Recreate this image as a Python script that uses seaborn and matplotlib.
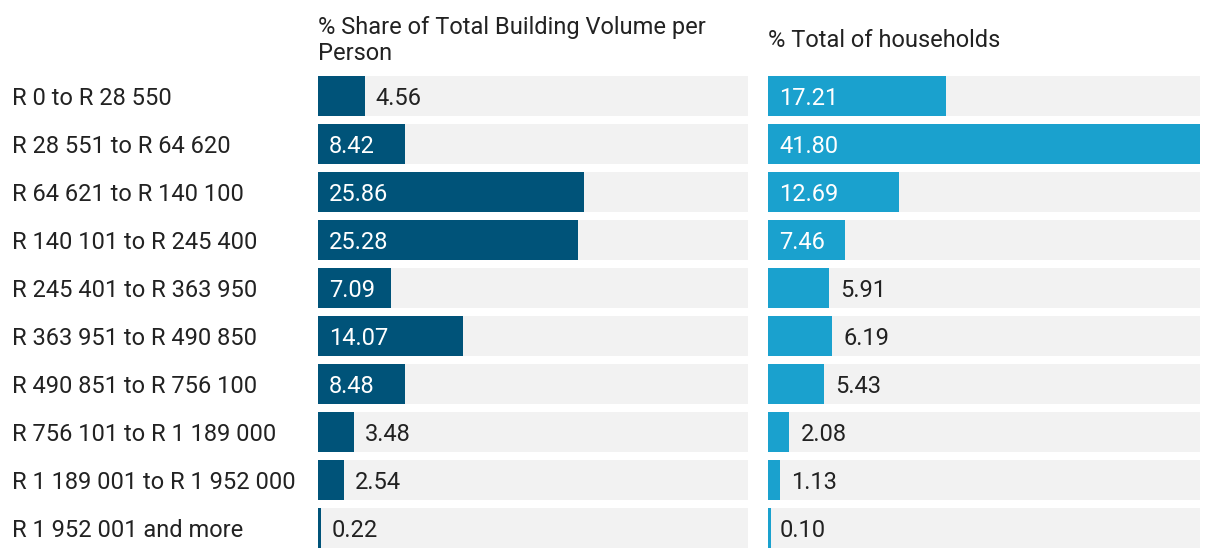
import matplotlib
matplotlib.use("Agg")
import matplotlib.pyplot as plt
import pandas as pd
import seaborn as sns

categories = [
    "R 0 to R 28 550",
    "R 28 551 to R 64 620",
    "R 64 621 to R 140 100",
    "R 140 101 to R 245 400",
    "R 245 401 to R 363 950",
    "R 363 951 to R 490 850",
    "R 490 851 to R 756 100",
    "R 756 101 to R 1 189 000",
    "R 1 189 001 to R 1 952 000",
    "R 1 952 001 and more",
]
building_share = [4.56, 8.42, 25.86, 25.28, 7.09, 14.07, 8.48, 3.48, 2.54, 0.22]
households = [17.21, 41.80, 12.69, 7.46, 5.91, 6.19, 5.43, 2.08, 1.13, 0.10]

titles = ["% Share of Total Building Volume per\nPerson", "% Total of households"]
colors = ["#005379", "#1aa1ce"]

sns.set_style("white")
plt.rcParams["font.family"] = ["Roboto", "DejaVu Sans"]

df = pd.DataFrame({"group": categories, "building": building_share, "households": households})
vmax = max(building_share + households)
df["full"] = vmax

fig = plt.figure(figsize=(12.2, 5.58), dpi=100)
top = 1 - 76 / 558
bottom = 1 - 548 / 558
ax1 = fig.add_axes([318 / 1220, bottom, 430 / 1220, top - bottom])
ax2 = fig.add_axes([768 / 1220, bottom, 432 / 1220, top - bottom])

fs = 17
bw = 0.833
pad = 1.07
for ax, col, color in zip([ax1, ax2], ["building", "households"], colors):
    sns.barplot(data=df, x="full", y="group", orient="h", color="#f2f2f2",
                width=bw, saturation=1, linewidth=0, ax=ax)
    sns.barplot(data=df, x=col, y="group", orient="h", color=color,
                width=bw, saturation=1, linewidth=0, ax=ax)
    # keep very small bars visible as a thin line
    for p in ax.patches[len(categories):]:
        if p.get_width() < 0.25:
            p.set_width(0.25)
    ax.set_xlim(0, vmax)
    ax.set_ylim(len(categories) - 1 + bw / 2, -bw / 2)
    ax.set_xlabel("")
    ax.set_ylabel("")
    ax.set_xticks([])
    sns.despine(ax=ax, left=True, bottom=True)
    for i, v in enumerate(df[col]):
        if v > 6.5:
            ax.text(pad, i, f"{v:.2f}", color="white", va="center_baseline", ha="left", fontsize=fs)
        else:
            ax.text(v + pad, i, f"{v:.2f}", color="#222222", va="center_baseline", ha="left", fontsize=fs)
    ax.tick_params(axis="y", length=0)

ax1.tick_params(axis="y", pad=(318 - 12) * 0.72, labelsize=fs, labelcolor="#222222")
for lbl in ax1.get_yticklabels():
    lbl.set_horizontalalignment("left")
ax2.set_yticks([])

ax1.set_title(titles[0], loc="left", fontsize=fs, color="#222222", pad=11.5, linespacing=1.15)
ax2.set_title(titles[1], loc="left", fontsize=fs, color="#222222", pad=21)

fig.savefig("out.png", dpi=100)
